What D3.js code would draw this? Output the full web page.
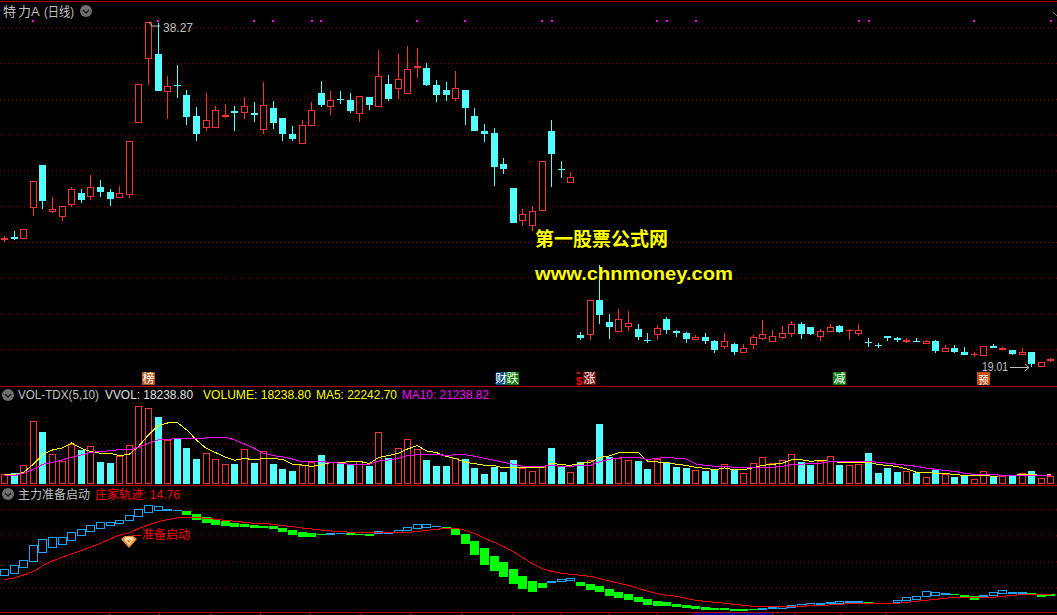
<!doctype html>
<html>
  <head>
    <meta charset="utf-8">
    <title>特力A</title>
    <script src="https://d3js.org/d3.v7.min.js"></script>
    <style>
      html, body { margin: 0; padding: 0; background: #000; overflow: hidden; }
      svg { display: block; }
      text { font-family: "Liberation Sans", "Noto Sans CJK SC", sans-serif; }
    </style>
  </head>
  <body>
    <script>
      // K线 开高低收
      const opens = [
        26.12,26.28,26.19,27.92,30.31,27.70,27.42,28.04,28.74,28.54,
        29.08,28.80,28.43,28.65,32.67,36.25,36.51,34.41,34.78,34.22,
        33.05,32.38,32.39,32.99,33.33,33.23,33.21,32.28,33.49,32.93,
        32.04,31.50,32.50,34.33,33.57,34.01,33.94,33.17,34.11,33.57,
        34.83,34.57,34.29,35.75,35.73,34.78,34.50,34.01,34.50,33.04,
        32.21,32.09,30.36,29.02,27.19,26.92,27.75,32.21,30.08,29.32,
        20.80,20.82,22.76,21.53,20.99,21.27,21.14,20.50,20.80,21.70,
        21.03,20.91,20.54,20.69,20.47,20.13,20.30,19.82,20.26,20.58,
        20.43,20.63,20.88,21.42,21.25,20.71,20.99,21.31,21.05,20.86,
        20.39,20.24,20.75,20.65,20.43,20.47,20.32,20.47,19.87,20.08,
        19.85,19.67,19.65,20.19,19.98,19.96,19.70,19.85,19.03,19.37];
      const highs = [
        26.34,26.62,26.71,29.40,30.31,28.52,28.00,29.08,28.97,29.75,
        29.47,28.97,29.13,31.63,34.82,38.27,38.23,35.28,35.90,34.50,
        33.55,34.33,33.61,33.72,33.61,34.11,33.83,34.95,33.89,32.93,
        32.49,32.82,33.83,35.00,34.44,34.44,34.33,34.14,34.11,36.73,
        35.34,36.51,36.96,36.85,36.01,35.06,34.94,35.56,34.50,33.49,
        32.60,32.37,30.70,29.02,27.85,28.01,30.51,32.82,30.53,29.91,
        20.97,22.74,24.71,21.98,22.26,22.14,21.42,20.91,21.36,21.81,
        21.08,20.97,20.80,20.91,20.52,20.91,20.36,20.30,20.78,21.64,
        21.08,21.31,21.59,21.53,21.25,21.14,21.42,21.36,21.14,21.42,
        20.64,20.36,20.75,20.69,20.64,20.64,20.51,20.52,20.23,20.24,
        20.13,19.85,20.17,20.30,20.13,19.96,20.08,19.85,19.28,19.54];
      const lows = [
        26.02,26.12,26.19,27.46,27.85,27.61,27.18,27.98,28.18,28.35,
        28.52,28.02,28.43,28.46,32.67,34.78,34.44,32.88,34.05,32.54,
        31.65,32.21,32.39,32.93,32.21,32.88,32.71,32.04,32.32,31.65,
        31.65,31.50,32.50,33.55,33.10,33.72,33.21,32.71,33.38,33.57,
        33.88,33.99,34.29,35.17,34.72,33.83,33.88,33.88,32.54,32.21,
        31.59,29.13,29.80,27.06,26.90,26.62,27.75,29.08,29.58,29.32,
        20.54,20.52,21.42,20.58,20.99,21.03,20.52,20.36,20.52,20.86,
        20.69,20.36,20.54,20.30,19.80,20.02,19.68,19.82,20.00,20.54,
        20.43,20.58,20.69,20.58,20.80,20.47,20.99,20.92,20.52,20.77,
        20.13,20.06,20.47,20.41,20.36,20.41,20.32,19.80,19.87,19.80,
        19.69,19.56,19.65,20.08,19.96,19.69,19.70,19.01,19.03,19.29];
      const closes = [
        26.23,26.17,26.71,29.40,28.30,27.83,28.00,28.95,28.35,29.06,
        28.80,28.41,28.72,31.63,34.82,38.27,34.44,34.70,34.72,32.99,
        32.04,32.80,33.36,33.08,33.21,33.59,33.12,33.64,32.66,32.04,
        31.76,32.52,33.36,33.66,33.92,33.96,33.32,34.14,33.66,35.26,
        33.99,35.09,35.65,35.84,34.78,34.22,34.22,34.59,33.49,32.21,
        32.04,30.19,30.08,27.06,27.55,27.72,30.51,30.92,30.03,29.62,
        20.63,22.74,21.92,21.25,21.68,21.45,20.69,20.45,21.19,21.08,
        20.91,20.58,20.69,20.47,19.96,20.45,19.85,20.06,20.67,20.84,
        20.73,20.90,21.40,20.86,20.86,21.01,21.23,20.97,21.10,21.06,
        20.34,20.19,20.64,20.52,20.52,20.41,20.45,19.91,20.06,19.85,
        19.69,19.76,20.17,20.08,20.08,19.74,19.85,19.18,19.28,19.43];

      // 成交量与均线
      const volumes = [
        22910,26070,44240,148520,123240,70310,53720,94010,80580,89270,
        52140,49770,66360,91640,184070,179330,158790,104280,106650,85320,
        59250,72680,58460,46610,47400,82950,49770,77420,47400,35550,
        30810,45030,52930,68730,51350,51350,47400,53720,42660,122450,
        60830,84530,105860,82950,56880,42660,42660,60830,59250,37920,
        23700,40290,28440,56880,37130,30020,39500,85320,40290,27650,
        51350,56090,142200,63990,60830,56090,54510,35550,58460,51350,
        40290,37920,32390,30810,33180,46610,34760,25280,48980,63200,
        48980,56090,70310,51350,45030,53720,65570,45030,44240,46610,
        73470,26070,37920,28440,30020,26070,15800,32390,22910,16590,
        18960,12640,30020,16590,18170,18960,25280,30020,13430,18238.8];
      const ma5 = [
        21330,21330,27650,46610,70310,80580,85320,97170,84530,76630,
        72680,72680,67150,70310,90060,116130,138250,144570,145360,127980,
        104280,84530,74260,63990,56090,60830,56880,60830,60830,57670,
        46610,45030,41870,45030,50560,49770,53720,53720,48190,63200,
        67150,72680,82950,90850,78210,74260,65570,60040,51350,48190,
        44240,43450,37920,37920,37920,37920,38710,48980,45820,44240,
        48980,51350,62410,66360,74260,75050,75050,53720,52140,51350,
        46610,44240,39500,37130,33970,37920,33970,33970,38710,44240,
        46610,48980,57670,57670,53720,56090,53720,51350,51350,51350,
        52140,45820,44240,41080,35550,27650,27650,25280,25280,22120,
        20540,20540,20540,18170,19750,19750,22910,22910,19750,22242.7];
      const ma10 = [
        18960,19750,26070,34760,46610,51350,56880,63200,68730,75050,
        76630,79000,81370,81370,86900,96380,104280,105070,108230,108230,
        108230,109020,110600,110600,104280,94800,84530,72680,67150,63990,
        59250,52140,52140,52930,51350,48980,46610,46610,46610,54510,
        56880,60830,67150,69520,70310,70310,67150,69520,69520,65570,
        60830,56090,51350,46610,41870,41870,41870,44240,41870,41870,
        44240,44240,52930,58460,61620,63200,63200,57670,60830,63200,
        60830,59250,47400,44240,41870,41870,39500,39500,39500,39500,
        39500,41870,46610,46610,48980,48980,53720,53720,53720,53720,
        53720,51350,48980,46610,44240,41870,37920,34760,31600,30020,
        25280,22910,22910,22910,19750,19750,20540,20540,19750,21238.82];

      // 主力准备启动 指标
      const zlOpens = [
        17.51,17.91,18.71,19.71,20.96,21.71,22.26,22.86,23.51,24.11,
        24.56,25.01,25.31,25.76,26.36,26.96,27.26,27.36,27.36,27.31,
        26.86,26.41,26.11,25.81,25.51,25.36,25.21,25.06,25.06,24.76,
        24.46,24.16,24.01,23.86,23.76,23.86,24.01,23.86,23.86,23.86,
        23.86,24.01,24.31,24.61,24.76,24.86,24.91,24.61,23.86,22.81,
        21.76,20.56,19.66,18.61,17.56,16.81,16.51,16.51,16.66,16.81,
        16.66,16.36,16.06,15.61,15.16,14.86,14.41,14.11,13.81,13.66,
        13.36,13.21,13.06,12.91,12.76,12.76,12.61,12.61,12.61,12.46,
        12.61,12.66,12.76,12.91,13.06,13.21,13.36,13.36,13.51,13.51,
        13.66,13.51,13.51,13.51,13.81,13.96,14.41,14.56,14.71,14.86,
        14.71,14.56,14.41,14.56,14.86,14.86,14.86,15.01,14.86,14.86];
      const zlCloses = [
        18.61,19.16,19.91,22.16,23.06,23.36,23.36,24.11,24.56,25.16,
        25.61,25.61,25.91,26.66,27.56,28.16,28.01,27.61,27.46,26.71,
        25.96,25.51,25.21,25.06,24.91,24.91,24.76,24.76,24.61,24.16,
        23.71,23.41,23.41,23.71,24.01,23.96,23.76,23.71,23.56,24.26,
        24.16,24.41,24.86,25.31,25.31,25.01,24.61,23.71,22.36,20.71,
        19.21,18.31,17.41,16.36,15.61,15.16,15.76,16.81,17.11,17.26,
        16.06,15.46,15.16,14.56,14.26,13.96,13.66,13.21,13.06,13.06,
        12.86,12.76,12.61,12.46,12.46,12.46,12.31,12.31,12.46,12.76,
        12.91,13.01,13.21,13.36,13.51,13.51,13.66,13.81,13.81,13.81,
        13.51,13.36,13.36,13.96,14.41,14.56,15.31,15.16,15.01,14.71,
        14.26,13.96,14.71,15.16,15.46,15.16,15.16,14.71,14.41,14.56];
      const zjTrack = [
        17.01,17.26,17.71,18.21,19.11,19.81,20.36,20.91,21.36,21.91,
        22.46,23.11,23.71,24.01,24.71,25.21,25.71,26.01,26.26,26.36,
        26.31,26.21,26.06,25.91,25.76,25.61,25.46,25.46,25.31,25.11,
        24.96,24.76,24.61,24.46,24.31,24.26,24.11,24.11,24.11,24.11,
        24.06,24.06,24.11,24.21,24.41,24.56,24.71,24.71,24.41,23.91,
        23.21,22.61,21.96,21.21,20.31,19.41,18.66,18.26,17.96,17.81,
        17.66,17.51,17.16,16.81,16.46,16.16,15.71,15.26,14.91,14.66,
        14.51,14.21,13.91,13.76,13.61,13.46,13.31,13.16,13.01,12.96,
        12.91,12.91,12.96,13.01,13.11,13.16,13.21,13.31,13.41,13.46,
        13.46,13.46,13.46,13.46,13.61,13.76,13.91,14.06,14.21,14.36,
        14.36,14.36,14.36,14.36,14.51,14.66,14.76,14.81,14.81,14.76];

      // 刻度与标记
      const priceGrid = [38, 36, 34, 32, 30, 28, 26, 24, 22, 20];
      const volGrid = [96380];
      const zlGrid = [27.56, 23.66, 19.76, 15.86];
      const dateTicks = [10.9, 16.1, 21.5, 26.6, 31.8, 37.1, 42.3, 47.6, 52.9, 57.9, 62.9, 67.9, 71.8, 79.95, 82.3, 87.1, 91.8];
      const topDots = [3, 16, 26, 28, 32, 33, 43, 48, 56, 57, 68, 69, 72, 89, 90, 101, 109];
      const badges = [
        { x: 142, label: '榜', color: '#b5561c', size: 12, base: 383 },
        { x: 496, label: '财', color: '#0d4a86', size: 12, base: 383 },
        { x: 506, label: '跌', color: '#0a7d0a', size: 12, base: 383 },
        { x: 583, label: '涨', color: '#7d0a0a', size: 12, base: 383 },
        { x: 833, label: '减', color: '#0a7d0a', size: 12, base: 383 },
        { x: 977, label: '预', color: '#c2521a', size: 10, base: 384 }
      ];

      const width = 1057;
      const height = 615;
      const RED = '#ff3232';
      const CYAN = '#54ffff';
      const GREEN = '#00ff00';
      const BLUE = '#1ea5ff';
      const LINE_RED = '#b00000';
      const GRID_RED = '#8c0000';
      const GREY = '#c0c0c0';

      const svg = d3.select('body').append('svg')
          .attr('width', width)
          .attr('height', height)
          .style('background', '#000');

      const x = d3.scaleLinear().domain([0, 109]).range([4.5, 1050.9]);
      const yPrice = d3.scaleLinear().domain([38, 20]).range([27.3, 349.3]);
      const yVol = d3.scaleLinear().domain([0, 96380]).range([484, 443.3]);
      const yZl = d3.scaleLinear().domain([31.21, 12.11]).range([485, 612.3]);
      const index = d3.range(opens.length);

      // 分隔线
      svg.append('g').selectAll('line')
        .data([1, 386, 485, 612])
        .join('line')
          .attr('x1', 0).attr('x2', width)
          .attr('y1', d => d + 0.5).attr('y2', d => d + 0.5)
          .attr('stroke', LINE_RED);

      // 网格线
      function drawGrid(scale, values) {
        const g = svg.append('g')
            .attr('transform', 'translate(0,0)')
            .call(d3.axisRight(scale).tickValues(values).tickSize(width).tickFormat(''));
        g.select('.domain').remove();
        g.selectAll('.tick line')
            .attr('stroke', GRID_RED)
            .attr('stroke-dasharray', '1,3');
      }
      drawGrid(yPrice, priceGrid);
      drawGrid(yVol, volGrid);
      drawGrid(yZl, zlGrid);

      // 底部日期刻度
      const dateAxis = svg.append('g')
          .attr('transform', 'translate(0,612)')
          .call(d3.axisBottom(x).tickValues(dateTicks).tickSize(3).tickFormat(''));
      dateAxis.select('.domain').remove();
      dateAxis.selectAll('.tick line').attr('stroke', '#c00000');
      svg.append('rect')
          .attr('x', x(71.8)).attr('y', 613)
          .attr('width', x(79.95) - x(71.8)).attr('height', 2)
          .attr('fill', '#000090');

      // 画实体: 空心的阳线, 实心的阴线
      function drawBodies(g, data, w, color, hollow, top, bottom) {
        const left = i => Math.round(x(i) - w / 2);
        g.selectAll(null).data(data).join('rect')
            .attr('x', left)
            .attr('y', i => Math.round(top(i)))
            .attr('width', w)
            .attr('height', i => Math.max(1, Math.round(bottom(i)) - Math.round(top(i))))
            .attr('fill', color);
        if (hollow) {
          g.selectAll(null)
            .data(data.filter(i => Math.round(bottom(i)) - Math.round(top(i)) > 2))
            .join('rect')
              .attr('x', i => left(i) + 1)
              .attr('y', i => Math.round(top(i)) + 1)
              .attr('width', w - 2)
              .attr('height', i => Math.round(bottom(i)) - Math.round(top(i)) - 2)
              .attr('fill', '#000');
        }
      }

      const isUp = i => closes[i] >= opens[i];

      // K线
      const candles = svg.append('g').attr('shape-rendering', 'crispEdges');
      candles.selectAll('rect.wick')
        .data(index)
        .join('rect')
          .attr('class', 'wick')
          .attr('x', i => Math.round(x(i) - 3.5) + 3)
          .attr('y', i => Math.round(yPrice(highs[i])))
          .attr('width', 1)
          .attr('height', i => Math.max(1, Math.round(yPrice(lows[i])) - Math.round(yPrice(highs[i]))))
          .attr('fill', i => isUp(i) ? RED : CYAN);
      drawBodies(candles, index.filter(isUp), 7, RED, true,
        i => yPrice(closes[i]), i => yPrice(opens[i]));
      drawBodies(candles, index.filter(i => !isUp(i)), 7, CYAN, false,
        i => yPrice(opens[i]), i => yPrice(closes[i]));

      // 顶部紫色信号点
      svg.append('g').selectAll('rect')
        .data(topDots)
        .join('rect')
          .attr('x', i => Math.round(x(i)) - 1)
          .attr('y', 20)
          .attr('width', 2)
          .attr('height', 2)
          .attr('fill', '#ff00ff');

      // 成交量
      const vols = svg.append('g').attr('shape-rendering', 'crispEdges');
      drawBodies(vols, index.filter(isUp), 7, RED, true,
        i => yVol(volumes[i]), () => yVol(0));
      drawBodies(vols, index.filter(i => !isUp(i)), 7, CYAN, false,
        i => yVol(volumes[i]), () => yVol(0));

      function drawLine(values, scale, color) {
        svg.append('path')
            .datum(values)
            .attr('fill', 'none')
            .attr('stroke', color)
            .attr('stroke-width', 1)
            .attr('shape-rendering', 'crispEdges')
            .attr('d', d3.line().x((d, i) => x(i)).y(d => scale(d)));
      }
      drawLine(ma5, yVol, '#ffff00');
      drawLine(ma10, yVol, '#ff00ff');

      // 主力指标
      const zlUp = i => zlCloses[i] >= zlOpens[i];
      const zl = svg.append('g').attr('shape-rendering', 'crispEdges');
      drawBodies(zl, index.filter(zlUp), 9, BLUE, true,
        i => yZl(zlCloses[i]), i => yZl(zlOpens[i]));
      drawBodies(zl, index.filter(i => !zlUp(i)), 9, GREEN, false,
        i => yZl(zlOpens[i]), i => yZl(zlCloses[i]));
      drawLine(zjTrack, yZl, '#ff0000');

      // 文字
      function label(px, py, str, color, size, extra) {
        const t = svg.append('text')
            .attr('x', px).attr('y', py)
            .attr('fill', color)
            .attr('font-size', size || 12.5)
            .text(str);
        if (extra) t.attr('textLength', extra).attr('lengthAdjust', 'spacingAndGlyphs');
        return t;
      }

      function collapseIcon(cx, cy) {
        svg.append('circle').attr('cx', cx).attr('cy', cy).attr('r', 6).attr('fill', '#6e6e6e');
        svg.append('path')
            .attr('d', `M${cx - 3},${cy - 1}L${cx},${cy + 2}L${cx + 3},${cy - 1}`)
            .attr('fill', 'none')
            .attr('stroke', '#1a1a1a')
            .attr('stroke-width', 1.3);
      }

      label(3, 16, '特', GREY, 13);
      label(18, 16, '力', GREY, 13);
      label(31, 16, 'A', GREY, 13);
      label(44, 16, '(日线)', GREY, 13, 30);
      collapseIcon(86, 11);

      collapseIcon(8, 395);
      label(18, 399, 'VOL-TDX(5,10)', GREY, 12.5, 81);
      label(105, 399, 'VVOL: 18238.80', '#e0e0e0', 12.5, 88);
      label(203, 399, 'VOLUME: 18238.80', '#ffff00', 12.5, 108);
      label(316, 399, 'MA5: 22242.70', '#ffff00', 12.5, 81);
      label(402, 399, 'MA10: 21238.82', '#ff00ff', 12.5, 87);

      collapseIcon(8, 494);
      label(18, 499, '主力准备启动', GREY, 12);
      label(95, 499, '庄家轨迹: 14.76', '#ff0000', 12, 85);

      // 最高最低价标注
      svg.append('path')
          .attr('d', 'M149,22L152,26L160,26')
          .attr('fill', 'none').attr('stroke', GREY);
      label(163, 32, '38.27', GREY, 12.5, 30);
      label(982, 371, '19.01', GREY, 12.5, 26);
      svg.append('path')
          .attr('d', 'M1010,367.5L1029,367.5M1025,364L1029,367.5L1025,371')
          .attr('fill', 'none').attr('stroke', GREY);
      svg.append('path')
          .attr('d', 'M1053,12L1057,16')
          .attr('fill', 'none').attr('stroke', '#808080');

      // 水印
      label(535, 246, '第一股票公式网', '#ffff00', 19, 133).attr('font-weight', 'bold');
      label(535, 280, 'www.chnmoney.com', '#ffff00', 19, 198).attr('font-weight', 'bold');

      // 信号标签
      const badge = svg.append('g');
      badge.selectAll('rect').data(badges).join('rect')
          .attr('x', d => d.x).attr('y', 372)
          .attr('width', d => d.x === 496 ? 10 : 13).attr('height', 13)
          .attr('fill', d => d.color);
      badge.selectAll('text').data(badges).join('text')
          .attr('x', d => d.x + (d.x === 496 ? 5 : 6.5)).attr('y', d => d.base)
          .attr('text-anchor', 'middle')
          .attr('fill', '#fff')
          .attr('font-size', d => d.size)
          .text(d => d.label);
      label(576, 385, '$', '#ff0000', 11).attr('font-weight', 'bold');
      svg.append('rect').attr('x', 577).attr('y', 372).attr('width', 3).attr('height', 2).attr('fill', '#ff0000');

      // 准备启动 图标
      svg.append('path').attr('d', 'M132,535.5L141,535.5').attr('stroke', '#ff0000');
      label(142, 539, '准备启动', '#ff0000', 12);
      svg.append('polygon').attr('points', '121,539 125,536 133,536 137,539 129,548').attr('fill', '#f0923c');
      svg.append('polygon').attr('points', '124,539 126,537 132,537 134,539 129,545').attr('fill', '#ffe0b0');
      svg.append('polygon').attr('points', '127,540 131,540 129,543').attr('fill', '#e8761e');
    </script>
  </body>
</html>
